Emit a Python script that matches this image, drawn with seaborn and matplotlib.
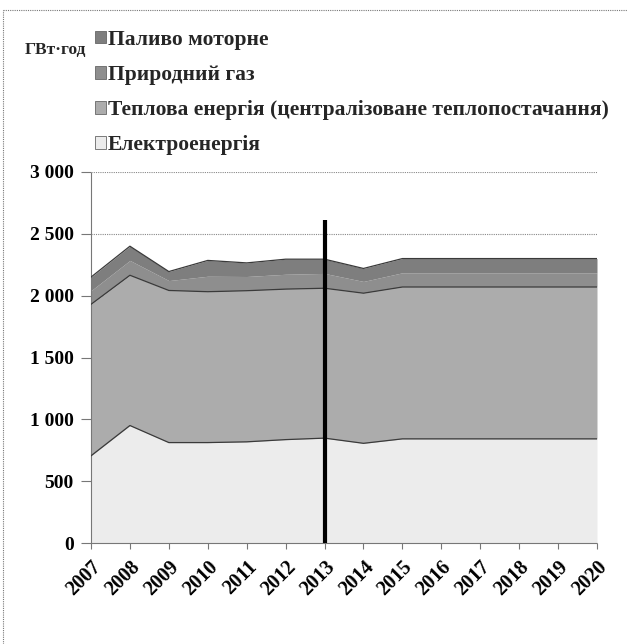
import matplotlib
matplotlib.use("Agg")
import matplotlib.pyplot as plt
from matplotlib.patches import Patch
from matplotlib.lines import Line2D
import seaborn as sns
import numpy as np
import pandas as pd

years = [2007, 2008, 2009, 2010, 2011, 2012, 2013, 2014, 2015, 2016, 2017, 2018, 2019, 2020]
electricity = [705, 950, 812, 812, 818, 836, 848, 806, 842, 842, 842, 842, 842, 842]
heat = [1225, 1215, 1230, 1220, 1222, 1217, 1212, 1214, 1228, 1228, 1228, 1228, 1228, 1228]
gas = [110, 120, 80, 125, 115, 120, 120, 95, 115, 115, 115, 115, 115, 115]
motor_fuel = [110, 115, 73, 128, 110, 122, 115, 105, 115, 115, 115, 115, 115, 115]

series_names = ["Електроенергія", "Теплова енергія (централізоване теплопостачання)",
                "Природний газ", "Паливо моторне"]
series_colors = ["#ececec", "#acacac", "#8e8e8e", "#7e7e7e"]
unit_label = "ГВт·год"
marker_year = 2013
marker_top = 2610
yticks = [0, 500, 1000, 1500, 2000, 2500, 3000]

sns.set_theme(style="white")
plt.rcParams["font.family"] = ["Liberation Serif", "DejaVu Serif"]
plt.rcParams["font.weight"] = "bold"

df = pd.DataFrame({"year": years, series_names[0]: electricity, series_names[1]: heat,
                   series_names[2]: gas, series_names[3]: motor_fuel})

fig = plt.figure(figsize=(6.32, 6.44), dpi=100)
ax = fig.add_axes([91 / 632, 1 - 543 / 644, (597 - 91) / 632, (543 - 172) / 644])

vals = [df[n].values for n in series_names]
ax.stackplot(df["year"], *vals, colors=series_colors, zorder=2, linewidth=0)
cum = np.cumsum(np.vstack(vals), axis=0)
for i in range(len(series_names)):
    if i == 2:
        continue
    sns.lineplot(x=df["year"], y=cum[i], ax=ax, color="#3a3a3a", linewidth=0.9, zorder=3, legend=False)

ax.vlines(marker_year, 0, marker_top, color="black", linewidth=3, zorder=4)

ax.set_xlim(years[0], years[-1])
ax.set_ylim(0, 3000)
ax.set_yticks(yticks)
ax.set_yticklabels([f"{v:,}".replace(",", " ") for v in yticks], fontsize=14, fontweight="bold")
ax.set_xticks(years)
ax.set_xticklabels([str(y) for y in years], rotation=45, ha="right", rotation_mode="anchor",
                   fontsize=14.5, fontweight="bold")
ax.set_xlabel("")
ax.set_ylabel("")
ax.grid(axis="y", linestyle=(0, (1, 1)), color="#888888", linewidth=0.8, zorder=0)
ax.set_axisbelow(True)
for s in ["top", "right"]:
    ax.spines[s].set_visible(False)
for s in ["left", "bottom"]:
    ax.spines[s].set_visible(True)
    ax.spines[s].set_linestyle((0, (1, 1)))
    ax.spines[s].set_color("#777777")
    ax.spines[s].set_linewidth(0.8)
ax.tick_params(axis="y", which="both", left=True, length=7, width=0.8, color="#777777", pad=5.5, labelcolor="black")
ax.tick_params(axis="x", which="both", bottom=True, length=4, width=0.8, color="#777777", pad=6, labelcolor="black")

handles = [Patch(facecolor=series_colors[i], edgecolor="#666666", linewidth=0.6) for i in [3, 2, 1, 0]]
labels = [series_names[i] for i in [3, 2, 1, 0]]
fig.legend(handles, labels, loc="upper left", bbox_to_anchor=(95 / 632, 1 - 30 / 644),
           frameon=False, prop={"weight": "bold", "size": 15.5},
           handlelength=0.5, handleheight=0.5, handletextpad=0.1, labelspacing=0.7, borderpad=0,
           borderaxespad=0)

fig.text(25 / 632, 1 - 50 / 644, unit_label, fontsize=12.5, fontweight="bold", va="center", ha="left")

# dotted frame (top and left)
fig.add_artist(Line2D([3 / 632, 627 / 632], [1 - 10 / 644, 1 - 10 / 644], transform=fig.transFigure,
                      color="#777777", linestyle=(0, (1, 1)), linewidth=0.8))
fig.add_artist(Line2D([3 / 632, 3 / 632], [0, 1 - 10 / 644], transform=fig.transFigure,
                      color="#777777", linestyle=(0, (1, 1)), linewidth=0.8))

fig.savefig("out.png", dpi=100, facecolor="white")
